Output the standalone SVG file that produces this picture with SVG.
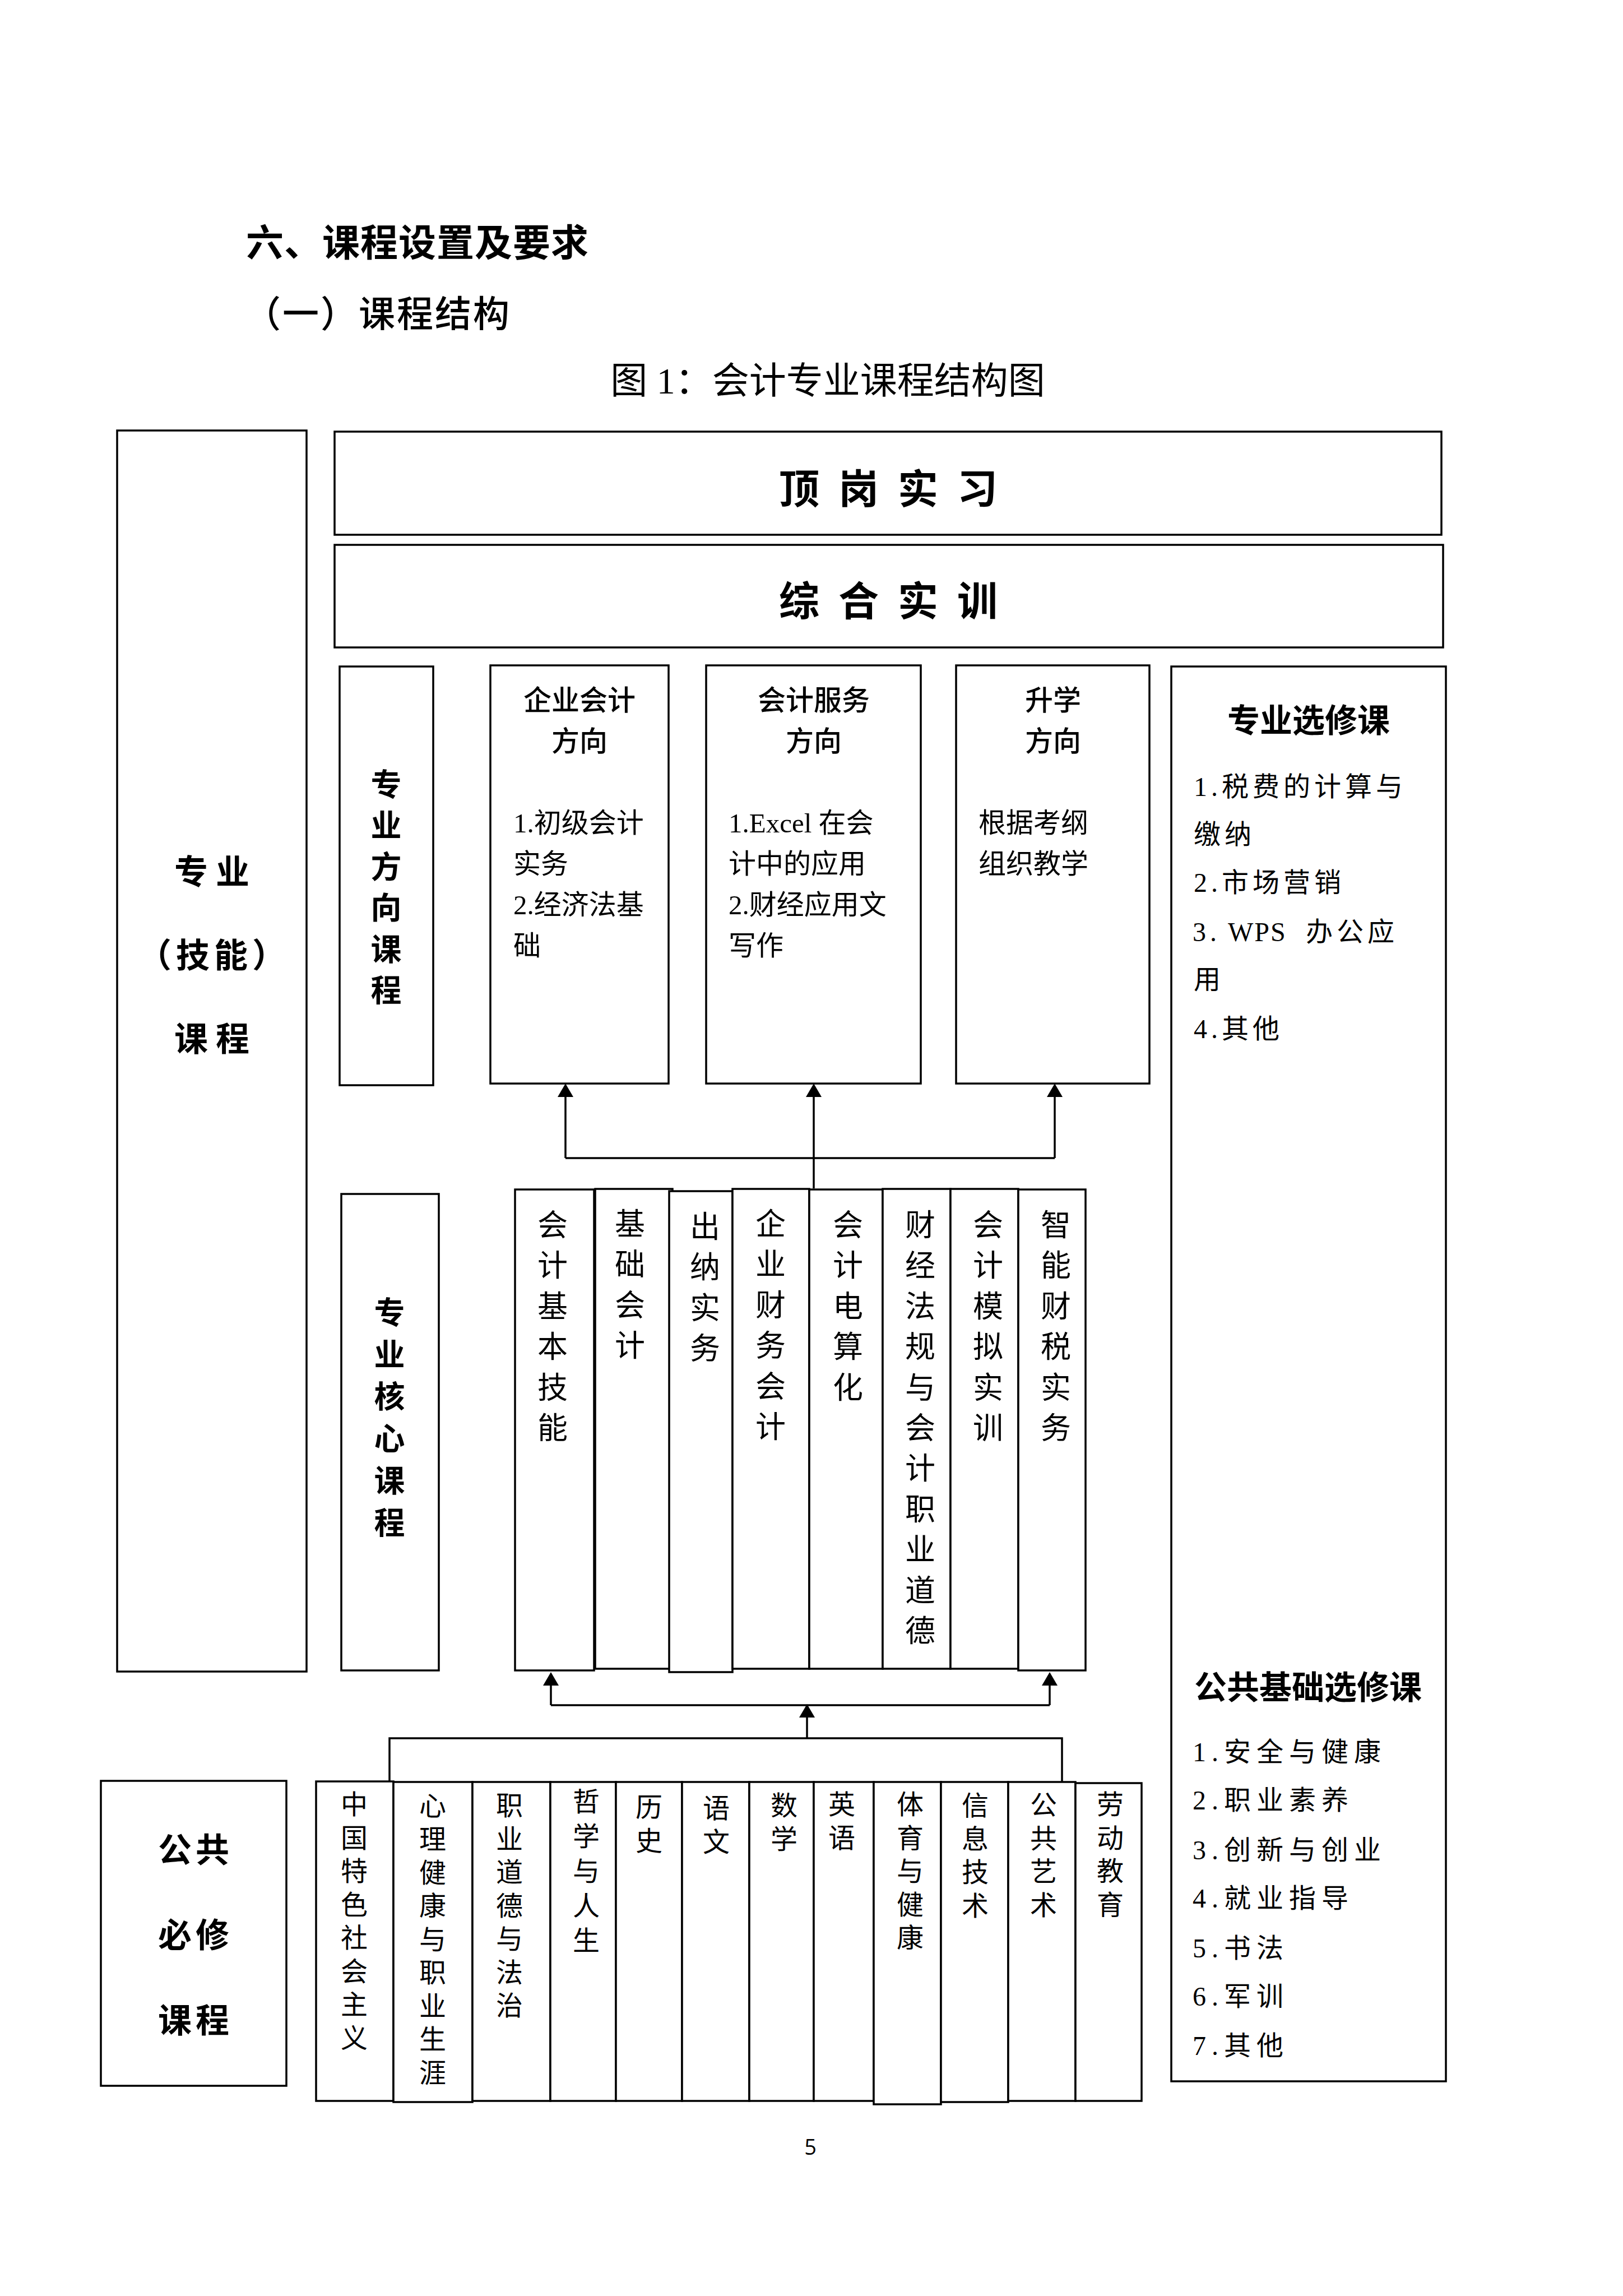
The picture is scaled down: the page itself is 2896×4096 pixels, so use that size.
<svg xmlns="http://www.w3.org/2000/svg" width="2896" height="4096" viewBox="0 0 2896 4096">
<style>
.bx{fill:#fff;stroke:#000;stroke-width:3.5}
.ln{fill:none;stroke:#000;stroke-width:3.5}
.t{font-family:"Liberation Serif","Noto Sans CJK SC",serif;fill:#000;dominant-baseline:central}
.s{font-family:"Noto Sans CJK SC",sans-serif;fill:#000;dominant-baseline:central}
.b{font-weight:700}
.m{text-anchor:middle}
.h1{font-size:67px;letter-spacing:1px}
.h2{font-size:65px;font-weight:500;letter-spacing:3px}
.cap{font-size:66px}
.big{font-size:72px;letter-spacing:34px}
.lbl{font-size:60px}
.vh{font-size:55px}
.dh{font-size:50px;font-weight:500}
.body{font-size:49px}
.el{font-size:48px;letter-spacing:7px}
.el2{font-size:48px;letter-spacing:10px}
.ttl{font-size:58px}
.vc{font-size:54px}
.vp{font-size:48px}
.pg{font-family:"Open Sans","Liberation Sans",sans-serif;font-size:38px;fill:#000}
</style>
<defs>
<marker id="ah" viewBox="0 0 24 28" markerWidth="24" markerHeight="28" refX="14" refY="14" orient="auto" markerUnits="userSpaceOnUse">
<path d="M0,0 L24,14 L0,28 z" fill="#000"/>
</marker>
</defs>
<rect width="2896" height="4096" fill="#fff"/>

<g id="headings">
<text class="s b h1" x="439" y="427">六、课程设置及要求</text>
<text class="s h2" x="436" y="555">（一）课程结构</text>
<text class="t cap m" x="1477" y="679">图 1：会计专业课程结构图</text>
</g>

<g id="node-zhuanye">
<rect class="bx" x="209" y="768" width="338" height="2214"/>
<text class="s b lbl m" x="385" y="1550" style="letter-spacing:14px">专业</text>
<text class="s b lbl m" x="382" y="1699" style="letter-spacing:8px">（技能）</text>
<text class="s b lbl m" x="385" y="1848" style="letter-spacing:14px">课程</text>
</g>

<g id="node-dinggang">
<rect class="bx" x="597" y="770" width="1975" height="184"/>
<text class="s b big m" x="1602" y="866">顶岗实习</text>
</g>

<g id="node-zonghe">
<rect class="bx" x="597" y="972" width="1978" height="183"/>
<text class="s b big m" x="1602" y="1066">综合实训</text>
</g>

<g id="node-fangxiang">
<rect class="bx" x="606" y="1189" width="167" height="747"/>
<text class="s b vh m"><tspan x="689" y="1395">专</tspan><tspan x="689" y="1468">业</tspan><tspan x="689" y="1542">方</tspan><tspan x="689" y="1615">向</tspan><tspan x="689" y="1689">课</tspan><tspan x="689" y="1762">程</tspan></text>
</g>

<g id="node-qiye">
<rect class="bx" x="875" y="1187" width="318" height="746"/>
<text class="t dh m" x="1034" y="1250">企业会计</text>
<text class="t dh m" x="1034" y="1323">方向</text>
<text class="t body" x="916" y="1468">1.初级会计</text>
<text class="t body" x="916" y="1541">实务</text>
<text class="t body" x="916" y="1614">2.经济法基</text>
<text class="t body" x="916" y="1687">础</text>
</g>

<g id="node-fuwu">
<rect class="bx" x="1260" y="1187" width="383" height="746"/>
<text class="t dh m" x="1452" y="1250">会计服务</text>
<text class="t dh m" x="1452" y="1323">方向</text>
<text class="t body" x="1300" y="1468">1.Excel 在会</text>
<text class="t body" x="1300" y="1541">计中的应用</text>
<text class="t body" x="1300" y="1614">2.财经应用文</text>
<text class="t body" x="1300" y="1687">写作</text>
</g>

<g id="node-shengxue">
<rect class="bx" x="1706" y="1187" width="345" height="746"/>
<text class="t dh m" x="1879" y="1250">升学</text>
<text class="t dh m" x="1879" y="1323">方向</text>
<text class="t body" x="1746" y="1468">根据考纲</text>
<text class="t body" x="1746" y="1541">组织教学</text>
</g>

<g id="node-xuanxiu">
<rect class="bx" x="2090" y="1189" width="490" height="2524"/>
<text class="s b ttl m" x="2335" y="1281">专业选修课</text>
<text class="t el" x="2130" y="1403">1.税费的计算与</text>
<text class="t el" x="2130" y="1488">缴纳</text>
<text class="t el" x="2130" y="1574">2.市场营销</text>
<text class="t el" x="2130" y="1662"><tspan x="2128">3.</tspan><tspan x="2191" style="letter-spacing:2px">WPS</tspan><tspan x="2330">办公应</tspan></text>
<text class="t el" x="2130" y="1747">用</text>
<text class="t el" x="2130" y="1835">4.其他</text>
<text class="s b ttl m" x="2334" y="3006">公共基础选修课</text>
<text class="t el2" x="2128" y="3125">1.安全与健康</text>
<text class="t el2" x="2128" y="3211">2.职业素养</text>
<text class="t el2" x="2128" y="3300">3.创新与创业</text>
<text class="t el2" x="2128" y="3386">4.就业指导</text>
<text class="t el2" x="2128" y="3475">5.书法</text>
<text class="t el2" x="2128" y="3561">6.军训</text>
<text class="t el2" x="2128" y="3649">7.其他</text>
</g>

<g id="node-hexin">
<rect class="bx" x="609" y="2130" width="174" height="850"/>
<text class="s b vh m"><tspan x="695" y="2337">专</tspan><tspan x="695" y="2412">业</tspan><tspan x="695" y="2487">核</tspan><tspan x="695" y="2562">心</tspan><tspan x="695" y="2637">课</tspan><tspan x="695" y="2712">程</tspan></text>
</g>

<g id="node-core-1">
<rect class="bx" x="919" y="2122" width="141" height="858"/>
<text class="t vc m"><tspan x="986" y="2187">会</tspan><tspan x="986" y="2259">计</tspan><tspan x="986" y="2332">基</tspan><tspan x="986" y="2404">本</tspan><tspan x="986" y="2477">技</tspan><tspan x="986" y="2549">能</tspan></text>
</g>
<g id="node-core-2">
<rect class="bx" x="1062" y="2121" width="138" height="856"/>
<text class="t vc m"><tspan x="1124" y="2185">基</tspan><tspan x="1124" y="2257">础</tspan><tspan x="1124" y="2330">会</tspan><tspan x="1124" y="2402">计</tspan></text>
</g>
<g id="node-core-3">
<rect class="bx" x="1194" y="2125" width="113" height="858"/>
<text class="t vc m"><tspan x="1258" y="2190">出</tspan><tspan x="1258" y="2262">纳</tspan><tspan x="1258" y="2335">实</tspan><tspan x="1258" y="2407">务</tspan></text>
</g>
<g id="node-core-4">
<rect class="bx" x="1307" y="2121" width="137" height="856"/>
<text class="t vc m"><tspan x="1375" y="2185">企</tspan><tspan x="1375" y="2257">业</tspan><tspan x="1375" y="2330">财</tspan><tspan x="1375" y="2402">务</tspan><tspan x="1375" y="2475">会</tspan><tspan x="1375" y="2547">计</tspan></text>
</g>
<g id="node-core-5">
<rect class="bx" x="1444" y="2122" width="131" height="855"/>
<text class="t vc m"><tspan x="1513" y="2187">会</tspan><tspan x="1513" y="2259">计</tspan><tspan x="1513" y="2332">电</tspan><tspan x="1513" y="2404">算</tspan><tspan x="1513" y="2477">化</tspan></text>
</g>
<g id="node-core-6">
<rect class="bx" x="1575" y="2121" width="121" height="856"/>
<text class="t vc m"><tspan x="1642" y="2187">财</tspan><tspan x="1642" y="2259">经</tspan><tspan x="1642" y="2332">法</tspan><tspan x="1642" y="2404">规</tspan><tspan x="1642" y="2477">与</tspan><tspan x="1642" y="2549">会</tspan><tspan x="1642" y="2621">计</tspan><tspan x="1642" y="2694">职</tspan><tspan x="1642" y="2766">业</tspan><tspan x="1642" y="2839">道</tspan><tspan x="1642" y="2911">德</tspan></text>
</g>
<g id="node-core-7">
<rect class="bx" x="1696" y="2121" width="121" height="856"/>
<text class="t vc m"><tspan x="1763" y="2187">会</tspan><tspan x="1763" y="2259">计</tspan><tspan x="1763" y="2332">模</tspan><tspan x="1763" y="2404">拟</tspan><tspan x="1763" y="2477">实</tspan><tspan x="1763" y="2549">训</tspan></text>
</g>
<g id="node-core-8">
<rect class="bx" x="1817" y="2122" width="120" height="858"/>
<text class="t vc m"><tspan x="1884" y="2187">智</tspan><tspan x="1884" y="2259">能</tspan><tspan x="1884" y="2332">财</tspan><tspan x="1884" y="2404">税</tspan><tspan x="1884" y="2477">实</tspan><tspan x="1884" y="2549">务</tspan></text>
</g>

<g id="node-gonggong">
<rect class="bx" x="180" y="3177" width="331" height="544"/>
<text class="s b lbl m" x="349" y="3295" style="letter-spacing:7px">公共</text>
<text class="s b lbl m" x="349" y="3447" style="letter-spacing:7px">必修</text>
<text class="s b lbl m" x="349" y="3599" style="letter-spacing:7px">课程</text>
</g>

<g id="node-pub-1">
<rect class="bx" x="564" y="3178" width="138" height="570"/>
<text class="t vp m"><tspan x="632" y="3219">中</tspan><tspan x="632" y="3279">国</tspan><tspan x="632" y="3338">特</tspan><tspan x="632" y="3398">色</tspan><tspan x="632" y="3457">社</tspan><tspan x="632" y="3517">会</tspan><tspan x="632" y="3576">主</tspan><tspan x="632" y="3636">义</tspan></text>
</g>
<g id="node-pub-2">
<rect class="bx" x="702" y="3179" width="141" height="571"/>
<text class="t vp m"><tspan x="772" y="3222">心</tspan><tspan x="772" y="3281">理</tspan><tspan x="772" y="3341">健</tspan><tspan x="772" y="3400">康</tspan><tspan x="772" y="3460">与</tspan><tspan x="772" y="3519">职</tspan><tspan x="772" y="3579">业</tspan><tspan x="772" y="3638">生</tspan><tspan x="772" y="3698">涯</tspan></text>
</g>
<g id="node-pub-3">
<rect class="bx" x="843" y="3179" width="139" height="569"/>
<text class="t vp m"><tspan x="909" y="3221">职</tspan><tspan x="909" y="3281">业</tspan><tspan x="909" y="3340">道</tspan><tspan x="909" y="3400">德</tspan><tspan x="909" y="3459">与</tspan><tspan x="909" y="3519">法</tspan><tspan x="909" y="3578">治</tspan></text>
</g>
<g id="node-pub-4">
<rect class="bx" x="982" y="3179" width="117" height="569"/>
<text class="t vp m"><tspan x="1046" y="3214">哲</tspan><tspan x="1046" y="3276">学</tspan><tspan x="1046" y="3338">与</tspan><tspan x="1046" y="3400">人</tspan><tspan x="1046" y="3462">生</tspan></text>
</g>
<g id="node-pub-5">
<rect class="bx" x="1099" y="3179" width="118" height="569"/>
<text class="t vp m"><tspan x="1158" y="3224">历</tspan><tspan x="1158" y="3284">史</tspan></text>
</g>
<g id="node-pub-6">
<rect class="bx" x="1217" y="3179" width="120" height="569"/>
<text class="t vp m"><tspan x="1278" y="3226">语</tspan><tspan x="1278" y="3286">文</tspan></text>
</g>
<g id="node-pub-7">
<rect class="bx" x="1337" y="3179" width="115" height="569"/>
<text class="t vp m"><tspan x="1399" y="3221">数</tspan><tspan x="1399" y="3281">学</tspan></text>
</g>
<g id="node-pub-8">
<rect class="bx" x="1452" y="3179" width="107" height="569"/>
<text class="t vp m"><tspan x="1502" y="3219">英</tspan><tspan x="1502" y="3279">语</tspan></text>
</g>
<g id="node-pub-9">
<rect class="bx" x="1559" y="3179" width="120" height="575"/>
<text class="t vp m"><tspan x="1624" y="3219">体</tspan><tspan x="1624" y="3279">育</tspan><tspan x="1624" y="3338">与</tspan><tspan x="1624" y="3398">健</tspan><tspan x="1624" y="3457">康</tspan></text>
</g>
<g id="node-pub-10">
<rect class="bx" x="1679" y="3179" width="120" height="571"/>
<text class="t vp m"><tspan x="1740" y="3221">信</tspan><tspan x="1740" y="3281">息</tspan><tspan x="1740" y="3340">技</tspan><tspan x="1740" y="3400">术</tspan></text>
</g>
<g id="node-pub-11">
<rect class="bx" x="1799" y="3179" width="120" height="569"/>
<text class="t vp m"><tspan x="1862" y="3220">公</tspan><tspan x="1862" y="3280">共</tspan><tspan x="1862" y="3339">艺</tspan><tspan x="1862" y="3399">术</tspan></text>
</g>
<g id="node-pub-12">
<rect class="bx" x="1919" y="3181" width="118" height="567"/>
<text class="t vp m"><tspan x="1981" y="3219">劳</tspan><tspan x="1981" y="3279">动</tspan><tspan x="1981" y="3338">教</tspan><tspan x="1981" y="3398">育</tspan></text>
</g>

<g id="connectors">
<path class="ln" d="M1009,2066 H1882"/>
<path class="ln" d="M1009,2066 V1943" marker-end="url(#ah)"/>
<path class="ln" d="M1452,2120 V1943" marker-end="url(#ah)"/>
<path class="ln" d="M1882,2066 V1943" marker-end="url(#ah)"/>
<path class="ln" d="M983,3042 H1873"/>
<path class="ln" d="M983,3042 V2993" marker-end="url(#ah)"/>
<path class="ln" d="M1873,3042 V2993" marker-end="url(#ah)"/>
<path class="ln" d="M1440,3101 V3050" marker-end="url(#ah)"/>
<path class="ln" d="M695,3178 V3101 H1895 V3178"/>
</g>

<text class="pg" x="1446" y="3844" text-anchor="middle">5</text>
</svg>
